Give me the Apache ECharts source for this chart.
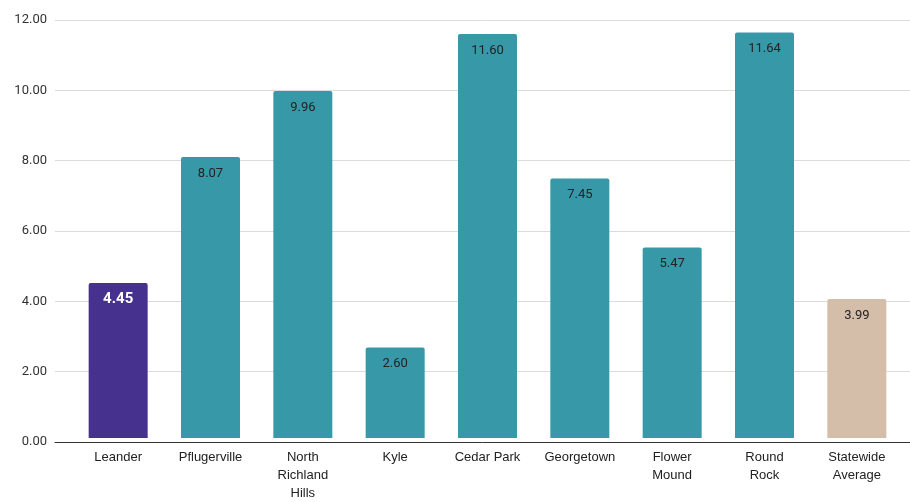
<!DOCTYPE html>
<html><head><meta charset="utf-8">
<script src="https://cdn.jsdelivr.net/npm/echarts@6/dist/echarts.min.js"></script>
<style>html,body{margin:0;padding:0;background:#fff}#c{width:910px;height:502px}</style>
</head><body><div id="c"></div>
<script>
var categories = ['Leander','Pflugerville','North\nRichland\nHills','Kyle','Cedar Park','Georgetown','Flower\nMound','Round\nRock','Statewide\nAverage'];
var values = [4.45, 8.07, 9.96, 2.60, 11.60, 7.45, 5.47, 11.64, 3.99];
var colors = ['#47318f','#3799a8','#3799a8','#3799a8','#3799a8','#3799a8','#3799a8','#3799a8','#d5bea9'];
var yTicks = [0, 2, 4, 6, 8, 10, 12];

var chart = echarts.init(document.getElementById('c'));
var data = values.map(function(v, i){
  var d = {value: v, itemStyle: {color: colors[i]}};
  if (i === 0) d.label = {color: '#ffffff', fontSize: 15, fontWeight: 'bold', distance: 9};
  return d;
});
chart.setOption({
  animation: false,
  grid: [
    {left: 55, right: 0, top: 20, bottom: 60},
    {left: 72, right: 7, top: 20, bottom: 60}
  ],
  xAxis: [
    {gridIndex: 0, type: 'category', data: categories, z: 5,
     axisLine: {show: true, lineStyle: {color: '#333', width: 1}},
     axisTick: {show: false}, axisLabel: {show: false}},
    {gridIndex: 1, type: 'category', data: categories,
     axisLine: {show: false}, axisTick: {show: false},
     axisLabel: {interval: 0, color: '#222', fontFamily: 'Liberation Sans, Arial', fontSize: 13, lineHeight: 18, margin: 10}}
  ],
  yAxis: [
    {gridIndex: 0, type: 'value', min: yTicks[0], max: yTicks[yTicks.length-1], interval: 2,
     axisLine: {show: false}, axisTick: {show: false},
     axisLabel: {color: '#333', fontFamily: 'Roboto', fontSize: 13, margin: 8,
       formatter: function(v){ return v.toFixed(2); }},
     splitLine: {lineStyle: {color: '#dcdcdc', width: 1}}},
    {gridIndex: 1, type: 'value', min: yTicks[0], max: yTicks[yTicks.length-1], interval: 2,
     show: false, splitLine: {show: false}}
  ],
  series: [
    {type: 'bar', xAxisIndex: 1, yAxisIndex: 1, data: data, barWidth: 59,
     itemStyle: {borderRadius: [2, 2, 0, 0]},
     label: {show: true, position: 'insideTop', distance: 10, color: '#222',
       fontFamily: 'Roboto', fontSize: 13,
       formatter: function(p){ return p.value.toFixed(2); }}}
  ]
});
</script></body></html>
